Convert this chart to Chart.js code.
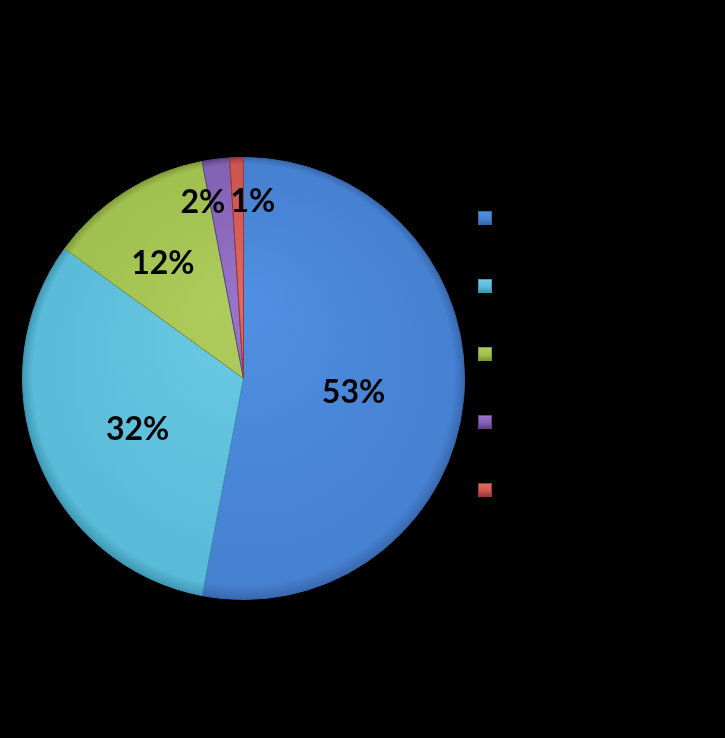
<!DOCTYPE html>
<html>
<head>
<meta charset="utf-8">
<script src="https://cdn.jsdelivr.net/npm/chart.js@4/dist/chart.umd.min.js"></script>
<style>
  html, body { margin: 0; padding: 0; background: #000; }
  #wrap { position: relative; width: 725px; height: 738px; background: #000; }
  #legend { position: absolute; left: 478px; top: 211px; margin: 0; padding: 0; list-style: none; }
  #legend li { height: 68px; }
  #legend span { display: block; width: 14px; height: 14px; box-sizing: border-box; }
</style>
</head>
<body>
<div id="wrap">
  <canvas id="shareChart" width="725" height="738"></canvas>
  <ul id="legend"></ul>
</div>
<script>
// ========== SHARE PIE — five slices, legend on the right ==========
var categories = ['Series 1', 'Series 2', 'Series 3', 'Series 4', 'Series 5'];
var shares = [53, 32, 12, 2, 1];
var percentLabels = ['53%', '32%', '12%', '2%', '1%'];

// slice colours: [light, base, dark]
var palette = [
    ['#5090E2', '#4781D2', '#3868AE'],
    ['#6CCBE6', '#5BBCD9', '#3F98B4'],
    ['#AECD5C', '#A0C050', '#7E9A38'],
    ['#9A74CC', '#8462B4', '#5F4388'],
    ['#DE6A64', '#CC5652', '#9A3A37']
];

// where each percent label sits: fraction of radius along the slice middle, plus a nudge
var labelRadius = [0.5, 0.53, 0.63, 0.82, 0.8];
var labelNudgeX = [0, 3, -6, -18, 15];
var labelNudgeY = [4, 8, 3, 4, 0];

function sliceFill(ctx) {
    var chart = ctx.chart;
    var area = chart.chartArea;
    var c = palette[ctx.dataIndex];
    if (!area) return c[1];
    var cx = (area.left + area.right) / 2;
    var cy = (area.top + area.bottom) / 2;
    var r = Math.min(area.right - area.left, area.bottom - area.top) / 2;
    var g = chart.ctx.createRadialGradient(cx, cy - r * 0.35, 0, cx, cy, r);
    g.addColorStop(0, c[0]);
    g.addColorStop(0.85, c[1]);
    g.addColorStop(0.95, c[1]);
    g.addColorStop(1, c[2]);
    return g;
}

var percentLabelPlugin = {
    id: 'percentLabels',
    afterDatasetsDraw: function(chart) {
        var ctx = chart.ctx;
        var meta = chart.getDatasetMeta(0);
        ctx.save();
        ctx.fillStyle = '#000';
        ctx.font = 'bold 32px Lato, "Liberation Sans", sans-serif';
        ctx.textAlign = 'center';
        ctx.textBaseline = 'middle';
        meta.data.forEach(function(arc, i) {
            var p = arc.getProps(['x', 'y', 'startAngle', 'endAngle', 'outerRadius'], true);
            var mid = (p.startAngle + p.endAngle) / 2;
            var d = p.outerRadius * labelRadius[i];
            ctx.fillText(percentLabels[i],
                p.x + Math.cos(mid) * d + labelNudgeX[i],
                p.y + Math.sin(mid) * d + labelNudgeY[i]);
        });
        ctx.restore();
    }
};

var shareChart = new Chart(document.getElementById('shareChart').getContext('2d'), {
    type: 'pie',
    data: {
        labels: categories,
        datasets: [{
            data: shares,
            backgroundColor: sliceFill,
            borderColor: palette.map(function(c) { return c[2]; }),
            borderWidth: 1
        }]
    },
    options: {
        responsive: false,
        animation: false,
        layout: { padding: { left: 22, right: 260, top: 157, bottom: 138 } },
        plugins: {
            legend: { display: false },
            tooltip: { enabled: true }
        }
    },
    plugins: [percentLabelPlugin]
});

// legend markers (labels are black on black in the original, so only the keys show)
var legendEl = document.getElementById('legend');
categories.forEach(function(name, i) {
    var li = document.createElement('li');
    var key = document.createElement('span');
    var c = palette[i];
    key.title = name;
    key.style.background = 'linear-gradient(to bottom, ' + c[0] + ' 0%, ' + c[1] + ' 55%, ' + c[2] + ' 100%)';
    key.style.border = '1px solid ' + c[2];
    li.appendChild(key);
    legendEl.appendChild(li);
});
</script>
</body>
</html>
